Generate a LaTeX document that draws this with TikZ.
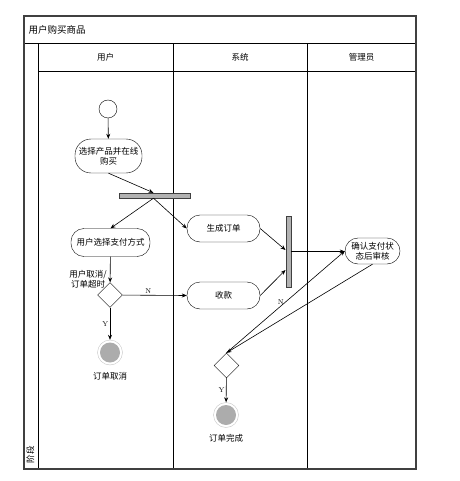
\documentclass[tikz,border=0pt]{standalone}
\usepackage{fontspec}
\newfontfamily\cjk{Noto Sans CJK SC}
\usetikzlibrary{shapes.geometric,arrows.meta}

\tikzset{
  act/.style={rectangle, draw, fill=white, rounded corners=13pt, inner sep=0pt, align=center,
    font=\cjk\fontsize{8.5}{10}\selectfont},
  syncbar/.style={rectangle, draw=black!75, fill=gray!60, inner sep=0pt},
  choice/.style={diamond, draw, fill=white, minimum width=25pt, minimum height=25pt, inner sep=0pt},
  initial/.style={circle, draw, fill=white, minimum size=18pt, inner sep=0pt},
  final/.style={circle, draw=gray!45, fill=white, minimum size=25pt, inner sep=0pt,
    path picture={\fill[gray!65] (path picture bounding box.center) circle (10pt);}},
  flow/.style={line width=0.6pt, -{Stealth[length=5pt,width=4pt]}},
  lbl/.style={font=\cjk\fontsize{8.5}{10}\selectfont, align=center},
  guard/.style={font=\fontsize{7}{8}\selectfont, inner sep=1.5pt},
}

\begin{document}
\begin{tikzpicture}[x=1pt,y=-1pt]
\useasboundingbox (0,0) rectangle (459,481);

% swimlanes
\draw[line width=0.9pt] (24,43.5) -- (416,43.5);
\draw[line width=0.9pt] (38,71.5) -- (416,71.5);
\draw[line width=0.9pt] (38,43.5) -- (38,469);
\draw[line width=0.9pt] (173,43.5) -- (173,469);
\draw[line width=0.9pt] (307,43.5) -- (307,469);
\draw[draw=black!75, line width=1.2pt] (24,16) rectangle (416,469);

\node[lbl, font=\cjk\fontsize{9.5}{11}\selectfont, anchor=west] (title) at (25,29.5) {用户购买商品};
\node[lbl] (laneuser) at (105.5,57.5) {用户};
\node[lbl] (lanesys) at (240,57.5) {系统};
\node[lbl] (laneadmin) at (361.5,57.5) {管理员};
\node[lbl, rotate=90, anchor=west] (phase) at (30.5,467) {阶段};

% nodes
\node[initial] (start) at (108,109) {};
\node[act, rounded corners=16pt, minimum width=67pt, minimum height=34pt] (choose) at (108.5,156) {选择产品并在线\\购买};
\node[syncbar, minimum width=71pt, minimum height=5pt] (fork) at (154.5,195.5) {};
\node[act, minimum width=79pt, minimum height=28pt] (pay) at (110.5,242.5) {用户选择支付方式};
\node[choice] (cancelq) at (110,295) {};
\node[lbl] (cancelcond) at (88,279) {用户取消/\\订单超时};
\node[final] (cancel) at (110,352.5) {};
\node[lbl] (cancellbl) at (110,376) {订单取消};

\node[act, minimum width=73pt, minimum height=27pt] (order) at (223.5,228.5) {生成订单};
\node[act, minimum width=73pt, minimum height=27pt] (collect) at (223.5,295.5) {收款};
\node[syncbar, minimum width=5pt, minimum height=71pt] (join) at (288.2,251.5) {};

\node[act, minimum width=55pt, minimum height=26pt] (audit) at (372.5,251) {确认支付状\\态后审核};
\node[choice] (auditq) at (226.5,365.5) {};
\node[final] (done) at (226,415) {};
\node[lbl] (donelbl) at (226,438) {订单完成};

% connectors
\draw[flow] (start) -- (choose);
\draw[flow] (choose.south) -- ([xshift=-1pt]fork.north);
\draw[flow] ([xshift=-1pt]fork.south) -- (pay.north);
\draw[flow] ([xshift=-1pt]fork.south) -- (order.west);
\draw[flow] (pay) -- (cancelq);
\draw[flow] (cancelq) -- node[guard, above, pos=0.4] {N} (collect.west);
\draw[flow] (cancelq) -- node[guard, left] {Y} (cancel);
\draw[flow] (order.east) -- ([yshift=1.5pt]join.west);
\draw[flow] (collect.east) -- ([yshift=-18.5pt]join.west);
\draw[flow] (join.east) -- (join.east -| audit.west);
\draw[flow] (auditq.north) -- node[guard, left, pos=0.5] {N} (audit.west);
\draw[flow] (audit.south) -- (auditq.north);
\draw[flow] (auditq) -- node[guard, left] {Y} (done);
\end{tikzpicture}
\end{document}
